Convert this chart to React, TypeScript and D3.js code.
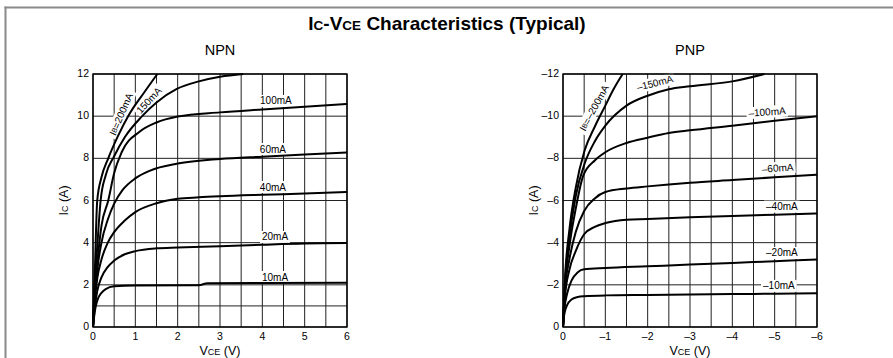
import React from "react";
import * as d3 from "d3";

// ---------- DATA ----------
// NPN: [VCE (V), IC (A)]
const npn10: [number, number][] = [[0,0],[0.04,0.7],[0.1,1.25],[0.2,1.62],[0.3,1.8],[0.5,1.93],[1,1.97],[2.5,1.98],[2.7,2.07],[4,2.09],[6,2.1]];
const npn20: [number, number][] = [[0,0],[0.04,0.9],[0.1,1.7],[0.2,2.35],[0.35,2.85],[0.5,3.15],[0.75,3.45],[1,3.6],[1.5,3.73],[2,3.77],[3,3.83],[4,3.9],[5,3.96],[6,3.98]];
const npn40: [number, number][] = [[0,0],[0.04,1.2],[0.1,2.3],[0.2,3.2],[0.35,4.0],[0.5,4.5],[0.75,5.05],[1,5.45],[1.5,5.87],[2,6.08],[2.5,6.15],[3,6.2],[4,6.27],[5,6.33],[6,6.4]];
const npn60: [number, number][] = [[0,0],[0.04,1.4],[0.1,2.7],[0.2,4.0],[0.35,5.1],[0.5,5.85],[0.7,6.5],[1,7.05],[1.35,7.42],[2,7.75],[3,7.97],[4,8.08],[5,8.18],[6,8.28]];
const npn100: [number, number][] = [[0,0],[0.04,1.6],[0.1,3.0],[0.2,4.8],[0.36,6.0],[0.5,7.3],[0.68,8.3],[1.1,9.26],[1.5,9.7],[2,9.98],[3,10.18],[4,10.32],[5,10.45],[6,10.58]];
const npn150: [number, number][] = [[0,0],[0.04,2.0],[0.1,3.8],[0.18,6.0],[0.3,7.2],[0.5,8.1],[0.75,9.0],[1.16,10.0],[1.5,10.65],[1.98,11.29],[2.5,11.65],[3,11.87],[3.55,12.0]];
const npn200: [number, number][] = [[0,0],[0.04,2.4],[0.1,6.0],[0.2,7.1],[0.36,8.0],[0.6,9.1],[0.86,10.1],[1.2,11.1],[1.52,12.0]];

// PNP: [VCE (V), IC (A)]
const pnp10: [number, number][] = [[0,0],[-0.03,-0.6],[-0.1,-1.05],[-0.2,-1.3],[-0.35,-1.42],[-0.5,-1.46],[-1,-1.5],[-2,-1.52],[-3,-1.54],[-4,-1.56],[-5,-1.58],[-6,-1.6]];
const pnp20: [number, number][] = [[0,0],[-0.03,-0.8],[-0.1,-1.6],[-0.2,-2.2],[-0.35,-2.6],[-0.5,-2.74],[-1,-2.8],[-2,-2.88],[-3,-2.96],[-4,-3.04],[-5,-3.12],[-6,-3.2]];
const pnp40: [number, number][] = [[0,0],[-0.05,-1.5],[-0.15,-2.7],[-0.3,-3.6],[-0.5,-4.4],[-0.75,-4.75],[-1,-4.93],[-1.5,-5.09],[-2,-5.12],[-3,-5.2],[-4,-5.27],[-5,-5.33],[-6,-5.38]];
const pnp60: [number, number][] = [[0,0],[-0.05,-1.8],[-0.15,-3.2],[-0.3,-4.5],[-0.5,-5.5],[-0.75,-6.1],[-1,-6.4],[-1.5,-6.57],[-2,-6.67],[-3,-6.84],[-4,-6.97],[-5,-7.1],[-6,-7.22]];
const pnp100: [number, number][] = [[0,0],[-0.05,-2.0],[-0.15,-3.8],[-0.3,-5.6],[-0.48,-7.19],[-0.75,-7.9],[-1,-8.29],[-1.5,-8.73],[-2,-8.98],[-2.5,-9.2],[-3,-9.33],[-4,-9.55],[-5,-9.78],[-6,-10.0]];
const pnp150: [number, number][] = [[0,0],[-0.05,-2.2],[-0.15,-4.2],[-0.3,-6.2],[-0.52,-7.8],[-0.75,-8.8],[-1,-9.55],[-1.5,-10.5],[-2,-10.97],[-2.5,-11.28],[-3,-11.42],[-4,-11.65],[-4.76,-12.0]];
const pnp200: [number, number][] = [[0,0],[-0.05,-2.4],[-0.15,-4.6],[-0.3,-6.6],[-0.51,-8.37],[-0.75,-9.5],[-1,-10.5],[-1.2,-11.3],[-1.41,-12.0]];

const npnSeries = [npn10, npn20, npn40, npn60, npn100, npn150, npn200];
const pnpSeries = [pnp10, pnp20, pnp40, pnp60, pnp100, pnp150, pnp200];

const npnXTicks = [0, 1, 2, 3, 4, 5, 6];
const npnYTicks = [0, 2, 4, 6, 8, 10, 12];
const npnXGrid = d3.range(0, 6.01, 0.5);
const npnYGrid = [0, 1, 2, 4, 6, 8, 10, 12];
const pnpXTicks = [0, -1, -2, -3, -4, -5, -6];
const pnpYTicks = [0, -2, -4, -6, -8, -10, -12];
const pnpXGrid = d3.range(0, -6.01, -0.5);
const pnpYGrid = [0, -2, -4, -6, -8, -10, -12];

// curve labels: [text, x, y, angle, has "IB=" prefix]
const npnLabels: [string, number, number, number, boolean][] = [
  ["200mA", 0.66, 10.1, -66, true],
  ["150mA", 1.32, 10.75, -47, false],
  ["100mA", 4.32, 10.72, 0, false],
  ["60mA", 4.25, 8.44, 0, false],
  ["40mA", 4.25, 6.64, 0, false],
  ["20mA", 4.3, 4.27, 0, false],
  ["10mA", 4.3, 2.37, 0, false],
];
const pnpLabels: [string, number, number, number, boolean][] = [
  ["–200mA", -0.73, -10.39, -61, true],
  ["–150mA", -2.17, -11.57, -14, false],
  ["–100mA", -4.82, -10.2, -4, false],
  ["–60mA", -5.07, -7.54, -4, false],
  ["–40mA", -5.17, -5.71, 0, false],
  ["–20mA", -5.17, -3.51, 0, false],
  ["–10mA", -5.1, -1.95, 0, false],
];

const FONT = "'Liberation Sans', Arial, Helvetica, sans-serif";
const W: Record<string, number> = { "0": .556, "1": .556, "2": .556, "3": .556, "4": .556, "5": .556, "6": .556, "7": .556, "8": .556, "9": .556, m: .833, A: .667, I: .278, B: .667, "=": .584, "–": .556 };
const textW = (s: string, fs: number) => s.split("").reduce((a, c) => a + (W[c] ?? .556), 0) * fs;
const fmt = (v: number) => (v === 0 ? "0" : v < 0 ? "–" + Math.abs(v) : String(v));

function Panel({ title, xs, ys, series, xGrid, yGrid, xTicks, yTicks, labels }: any) {
  const line = d3.line<[number, number]>().x(d => xs(d[0])).y(d => ys(d[1])).curve(d3.curveMonotoneX);
  const [x0, x1] = xs.range();
  const [y0, y1] = ys.range();
  const fs = 10;
  return (
    <g>
      <text x={(x0 + x1) / 2} y={55} textAnchor="middle" fontSize={14.5} fontFamily={FONT}>{title}</text>
      {xGrid.map((v: number, i: number) => (
        <line key={"gx" + i} x1={xs(v)} x2={xs(v)} y1={y0} y2={y1} stroke="#222" strokeWidth={1} />
      ))}
      {yGrid.map((v: number, i: number) => (
        <line key={"gy" + i} x1={x0} x2={x1} y1={ys(v)} y2={ys(v)} stroke="#222" strokeWidth={1} />
      ))}
      {labels.map((l: any, i: number) => {
        const full = (l[4] ? "IB=" : "") + l[0];
        const w = textW(full, fs) + 4;
        return (
          <rect key={"lb" + i} x={-w / 2} y={-6} width={w} height={12} fill="#fff"
            transform={`translate(${xs(l[1])},${ys(l[2])}) rotate(${l[3]})`} />
        );
      })}
      <rect x={x0} y={y1} width={x1 - x0} height={y0 - y1} fill="none" stroke="#000" strokeWidth={1.4} />
      {series.map((s: [number, number][], i: number) => (
        <path key={"s" + i} d={line(s) as string} fill="none" stroke="#000" strokeWidth={2} strokeLinejoin="round" />
      ))}
      {labels.map((l: any, i: number) => (
        <text key={"lt" + i} transform={`translate(${xs(l[1])},${ys(l[2])}) rotate(${l[3]})`}
          textAnchor="middle" dominantBaseline="central" fontSize={fs} fontFamily={FONT}>
          {l[4] ? (<><tspan>I</tspan><tspan fontSize={fs * 0.7}>B</tspan><tspan>=</tspan></>) : null}
          {l[0]}
        </text>
      ))}
      {xTicks.map((v: number, i: number) => (
        <text key={"tx" + i} x={xs(v)} y={y0 + 9} textAnchor="middle" dominantBaseline="central" fontSize={10.5} fontFamily={FONT}>
          {fmt(v)}
        </text>
      ))}
      {yTicks.map((v: number, i: number) => (
        <text key={"ty" + i} x={x0 - 4} y={ys(v) - 1} textAnchor="end" dominantBaseline="central" fontSize={10.5} fontFamily={FONT}>
          {fmt(v)}
        </text>
      ))}
      <text x={(x0 + x1) / 2} y={355} textAnchor="middle" fontSize={12.5} fontFamily={FONT}>
        V<tspan fontSize={9}>CE</tspan>{"  (V)"}
      </text>
      <text transform={`translate(${x0 - 25},${(y0 + y1) / 2}) rotate(-90)`} textAnchor="middle" fontSize={12.5} fontFamily={FONT}>
        I<tspan fontSize={9}>C</tspan>{"  (A)"}
      </text>
    </g>
  );
}

export default function App() {
  const npnX = d3.scaleLinear().domain([0, 6]).range([93, 347]);
  const npnY = d3.scaleLinear().domain([0, 12]).range([327, 74]);
  const pnpX = d3.scaleLinear().domain([0, -6]).range([563, 817]);
  const pnpY = d3.scaleLinear().domain([0, -12]).range([327, 74]);
  return (
    <svg width={893} height={358} style={{ position: "absolute", left: 0, top: 0, background: "#fff" }}>
      <rect x={0} y={0} width={893} height={358} fill="#fff" />
      <line x1={4.5} x2={893} y1={7.5} y2={7.5} stroke="#8a8a8a" strokeWidth={2} />
      <line x1={5.5} x2={5.5} y1={6.5} y2={358} stroke="#8a8a8a" strokeWidth={2} />
      <text x={447} y={30} textAnchor="middle" fontSize={19} fontWeight="bold" fontFamily={FONT}>
        I<tspan fontSize={13.5}>C</tspan>-V<tspan fontSize={13.5}>CE</tspan> Characteristics (Typical)
      </text>
      <Panel title="NPN" xs={npnX} ys={npnY} series={npnSeries} xGrid={npnXGrid} yGrid={npnYGrid}
        xTicks={npnXTicks} yTicks={npnYTicks} labels={npnLabels} />
      <Panel title="PNP" xs={pnpX} ys={pnpY} series={pnpSeries} xGrid={pnpXGrid} yGrid={pnpYGrid}
        xTicks={pnpXTicks} yTicks={pnpYTicks} labels={pnpLabels} />
    </svg>
  );
}
